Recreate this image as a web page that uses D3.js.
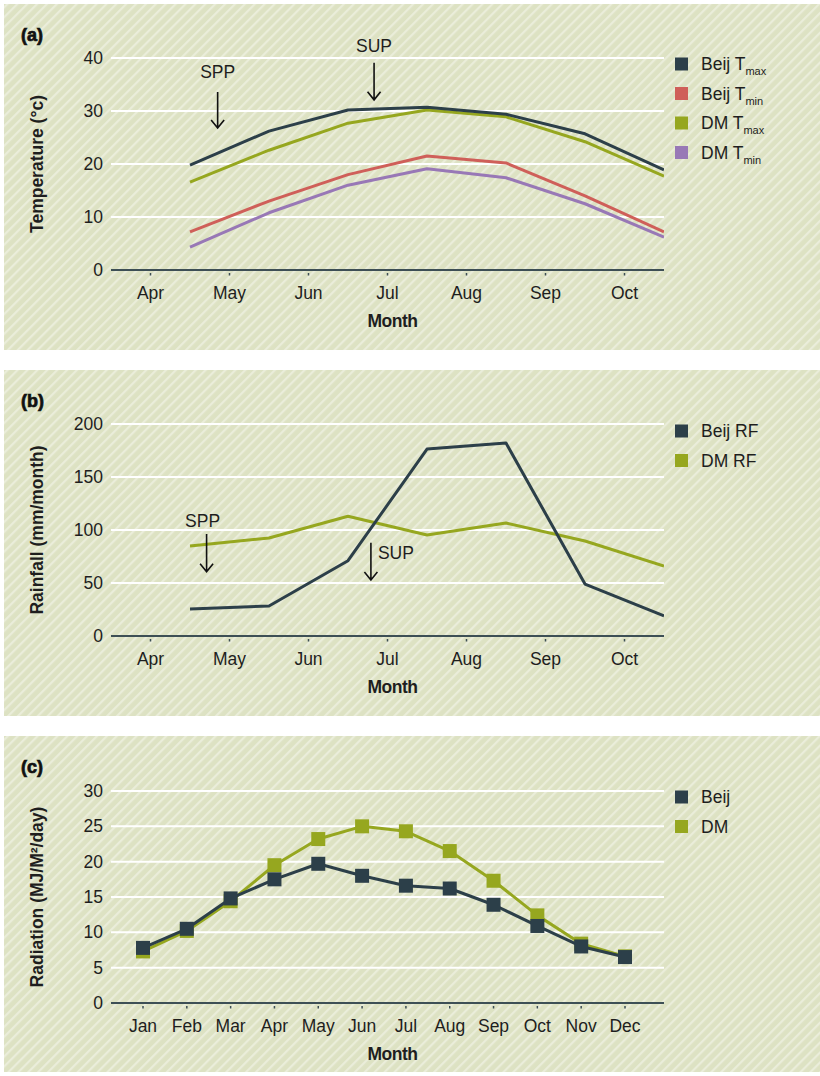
<!DOCTYPE html>
<html>
<head>
<meta charset="utf-8">
<script src="https://cdn.jsdelivr.net/npm/d3@7"></script>
<style>
  html, body { margin: 0; padding: 0; background: #ffffff; }
  svg { display: block; }
  text { font-family: "Liberation Sans", Arial, Helvetica, sans-serif; }
</style>
</head>
<body>
<script>
// ---- Data ----------------------------------------------------------------
// Growing-season months (values sit at mid-month)
const seasonMonths = ["Apr", "May", "Jun", "Jul", "Aug", "Sep", "Oct"];

// (a) temperature, °C
const beijTmax = [19.8, 26.2, 30.2, 30.7, 29.4, 25.7, 18.9];
const beijTmin = [7.2, 13.0, 18.0, 21.5, 20.2, 14.0, 7.2];
const dmTmax   = [16.6, 22.6, 27.7, 30.2, 28.9, 24.2, 17.7];
const dmTmin   = [4.3, 10.8, 16.0, 19.1, 17.4, 12.5, 6.2];
const tempTicks = [0, 10, 20, 30, 40];

// (b) rainfall, mm/month
const beijRF = [25.5, 28.3, 71.0, 176.4, 182.0, 49.0, 18.9];
const dmRF   = [84.9, 92.5, 113.0, 95.3, 106.6, 89.6, 66.0];
const rainTicks = [0, 50, 100, 150, 200];

// (c) radiation, MJ/m²/day
const yearMonths = ["Jan", "Feb", "Mar", "Apr", "May", "Jun", "Jul", "Aug", "Sep", "Oct", "Nov", "Dec"];
const beijRad = [7.8, 10.5, 14.8, 17.5, 19.7, 18.0, 16.6, 16.2, 13.9, 10.9, 8.0, 6.5];
const dmRad   = [7.3, 10.2, 14.4, 19.5, 23.2, 25.0, 24.3, 21.5, 17.3, 12.4, 8.4, 6.6];
const radTicks = [0, 5, 10, 15, 20, 25, 30];

// Sowing (SPP) and SUP markers: [label, month position, tail value, tip value]
const tempMarks = [["SPP", 0.85, 33.6, 26.8], ["SUP", 2.83, 39.1, 32.1]];
const rainMarks = [["SPP", 0.71, 96.2, 60.7], ["SUP", 2.79, 88.0, 52.8]];

// ---- Style ---------------------------------------------------------------
const C = {
  beij: "#2c3f49",
  beijMin: "#cf5f59",
  dm: "#96a71f",
  dmMin: "#9878b6",
  axis: "#3d4f55",
  text: "#1e1e1e",
  panel: "#dde2c3"
};

const W = 820, H = 1076;
const svg = d3.select("body").append("svg")
  .attr("width", W).attr("height", H)
  .attr("viewBox", `0 0 ${W} ${H}`);

svg.append("rect").attr("width", W).attr("height", H).attr("fill", "#ffffff");

// diagonal hatching used as panel background
const defs = svg.append("defs");
const pat = defs.append("pattern")
  .attr("id", "hatch")
  .attr("patternUnits", "userSpaceOnUse")
  .attr("width", 7).attr("height", 7)
  .attr("patternTransform", "rotate(45)");
pat.append("rect").attr("width", 7).attr("height", 7).attr("fill", C.panel);
pat.append("rect").attr("x", 0).attr("width", 2.2).attr("height", 7)
  .attr("fill", "#ffffff").attr("opacity", 0.38);

const plotX = [111, 664];

function panel(opt) {
  const g = svg.append("g");
  g.append("rect")
    .attr("x", 4).attr("y", opt.top)
    .attr("width", W - 4).attr("height", opt.bottom - opt.top)
    .attr("fill", "url(#hatch)");

  const y = d3.scaleLinear().domain(opt.yDomain).range(opt.yRange);
  const x = opt.x;

  // white horizontal gridlines
  g.append("g").selectAll("line")
    .data(opt.yTicks.filter(d => d !== 0))
    .join("line")
    .attr("x1", plotX[0]).attr("x2", plotX[1])
    .attr("y1", d => y(d)).attr("y2", d => y(d))
    .attr("stroke", "#ffffff").attr("stroke-width", 2);

  // y tick labels
  g.append("g").selectAll("text")
    .data(opt.yTicks)
    .join("text")
    .attr("x", 103).attr("y", d => y(d) + 6)
    .attr("text-anchor", "end")
    .attr("font-size", 17.5).attr("fill", C.text)
    .text(d => d);

  // baseline axis with small ticks
  const base = y(0);
  g.append("line")
    .attr("x1", plotX[0]).attr("x2", plotX[1])
    .attr("y1", base).attr("y2", base)
    .attr("stroke", C.axis).attr("stroke-width", 2);

  g.append("g").selectAll("line")
    .data(opt.xLabels)
    .join("line")
    .attr("x1", (d, i) => x(i)).attr("x2", (d, i) => x(i))
    .attr("y1", base + 3).attr("y2", base + 5.5)
    .attr("stroke", C.axis).attr("stroke-width", 1.5);

  g.append("g").selectAll("text")
    .data(opt.xLabels)
    .join("text")
    .attr("x", (d, i) => x(i)).attr("y", base + 29)
    .attr("text-anchor", "middle")
    .attr("font-size", 17.5).attr("fill", C.text)
    .text(d => d);

  // axis titles
  g.append("text")
    .attr("x", (plotX[0] + plotX[1]) / 2 + 5).attr("y", base + 57)
    .attr("text-anchor", "middle")
    .attr("font-size", 17.5).attr("font-weight", "bold")
    .attr("letter-spacing", -0.5).attr("fill", C.text)
    .text("Month");

  g.append("text")
    .attr("transform", `translate(43,${(opt.yRange[0] + opt.yRange[1]) / 2}) rotate(-90)`)
    .attr("text-anchor", "middle")
    .attr("font-size", 17.5).attr("font-weight", "bold")
    .attr("fill", C.text)
    .text(opt.yTitle);

  // panel letter
  g.append("text")
    .attr("x", 21).attr("y", opt.top + 37)
    .attr("font-size", 18).attr("font-weight", "bold")
    .attr("fill", "#111").attr("stroke", "#111").attr("stroke-width", 0.7)
    .text(opt.letter);

  return { g, x, y };
}

function drawLine(p, values, color, xOf, clipId) {
  const line = d3.line().x((d, i) => p.x(xOf(i))).y(d => p.y(d));
  p.g.append("path")
    .datum(values)
    .attr("d", line)
    .attr("fill", "none")
    .attr("stroke", color)
    .attr("stroke-width", 3)
    .attr("stroke-linejoin", "round")
    .attr("clip-path", clipId ? `url(#${clipId})` : null);
}

function legend(p, items, top) {
  items.forEach((it, i) => {
    const yy = top + i * 29.5;
    p.g.append("rect")
      .attr("x", 675).attr("y", yy - 6.5).attr("width", 13).attr("height", 13)
      .attr("fill", it.color);
    const t = p.g.append("text")
      .attr("x", 701).attr("y", yy + 6)
      .attr("font-size", 17.5).attr("fill", C.text);
    t.append("tspan").text(it.label);
    if (it.sub) {
      t.append("tspan").attr("font-size", 11).attr("dy", 5).text(it.sub);
    }
  });
}

function arrowMarks(p, marks, layout) {
  marks.forEach((m, i) => {
    const [label, pos, tail, tip] = m;
    const ax = p.x(pos), y0 = p.y(tail), y1 = p.y(tip);
    p.g.append("path")
      .attr("d", `M${ax},${y0}V${y1}M${ax - 6.5},${y1 - 8}L${ax},${y1}L${ax + 6.5},${y1 - 8}`)
      .attr("fill", "none").attr("stroke", "#111").attr("stroke-width", 1.6);
    const L = layout[i];
    p.g.append("text")
      .attr("x", ax + L.dx).attr("y", y0 + L.dy)
      .attr("text-anchor", L.anchor)
      .attr("font-size", 17.5).attr("fill", C.text)
      .text(label);
  });
}

// month scale for the growing-season panels: ticks at month index, data at mid-month
const xSeason = d3.scaleLinear().domain([-0.5, 6.5]).range(plotX);
defs.append("clipPath").attr("id", "clipSeason")
  .append("rect").attr("x", plotX[0]).attr("y", 0).attr("width", plotX[1] - plotX[0]).attr("height", H);
const mid = i => i + 0.5;

// ---- (a) Temperature -----------------------------------------------------
const pa = panel({
  top: 4, bottom: 350, letter: "(a)",
  x: xSeason, xLabels: seasonMonths,
  yDomain: [0, 40], yRange: [270, 58], yTicks: tempTicks,
  yTitle: "Temperature (°c)"
});
drawLine(pa, dmTmin, C.dmMin, mid, "clipSeason");
drawLine(pa, beijTmin, C.beijMin, mid, "clipSeason");
drawLine(pa, dmTmax, C.dm, mid, "clipSeason");
drawLine(pa, beijTmax, C.beij, mid, "clipSeason");
legend(pa, [
  { label: "Beij T", sub: "max", color: C.beij },
  { label: "Beij T", sub: "min", color: C.beijMin },
  { label: "DM T", sub: "max", color: C.dm },
  { label: "DM T", sub: "min", color: C.dmMin }
], 64);
arrowMarks(pa, tempMarks, [
  { dx: 0, dy: -14, anchor: "middle" },
  { dx: 0, dy: -11, anchor: "middle" }
]);

// ---- (b) Rainfall --------------------------------------------------------
const pb = panel({
  top: 370, bottom: 716, letter: "(b)",
  x: xSeason, xLabels: seasonMonths,
  yDomain: [0, 200], yRange: [636, 424], yTicks: rainTicks,
  yTitle: "Rainfall (mm/month)"
});
drawLine(pb, dmRF, C.dm, mid, "clipSeason");
drawLine(pb, beijRF, C.beij, mid, "clipSeason");
legend(pb, [
  { label: "Beij RF", color: C.beij },
  { label: "DM RF", color: C.dm }
], 431);
arrowMarks(pb, rainMarks, [
  { dx: -4, dy: -7, anchor: "middle" },
  { dx: 7, dy: 16, anchor: "start" }
]);

// ---- (c) Radiation -------------------------------------------------------
const xYear = d3.scaleLinear().domain([0, 11]).range([143, 625]);
const pc = panel({
  top: 736, bottom: 1072, letter: "(c)",
  x: xYear, xLabels: yearMonths,
  yDomain: [0, 30], yRange: [1003, 791], yTicks: radTicks,
  yTitle: "Radiation (MJ/M²/day)"
});
const idx = i => i;
[[dmRad, C.dm], [beijRad, C.beij]].forEach(([vals, col]) => {
  drawLine(pc, vals, col, idx, null);
  pc.g.append("g").selectAll("rect")
    .data(vals)
    .join("rect")
    .attr("x", (d, i) => xYear(i) - 7).attr("y", d => pc.y(d) - 7)
    .attr("width", 14).attr("height", 14)
    .attr("fill", col);
});
legend(pc, [
  { label: "Beij", color: C.beij },
  { label: "DM", color: C.dm }
], 797);
</script>
</body>
</html>
